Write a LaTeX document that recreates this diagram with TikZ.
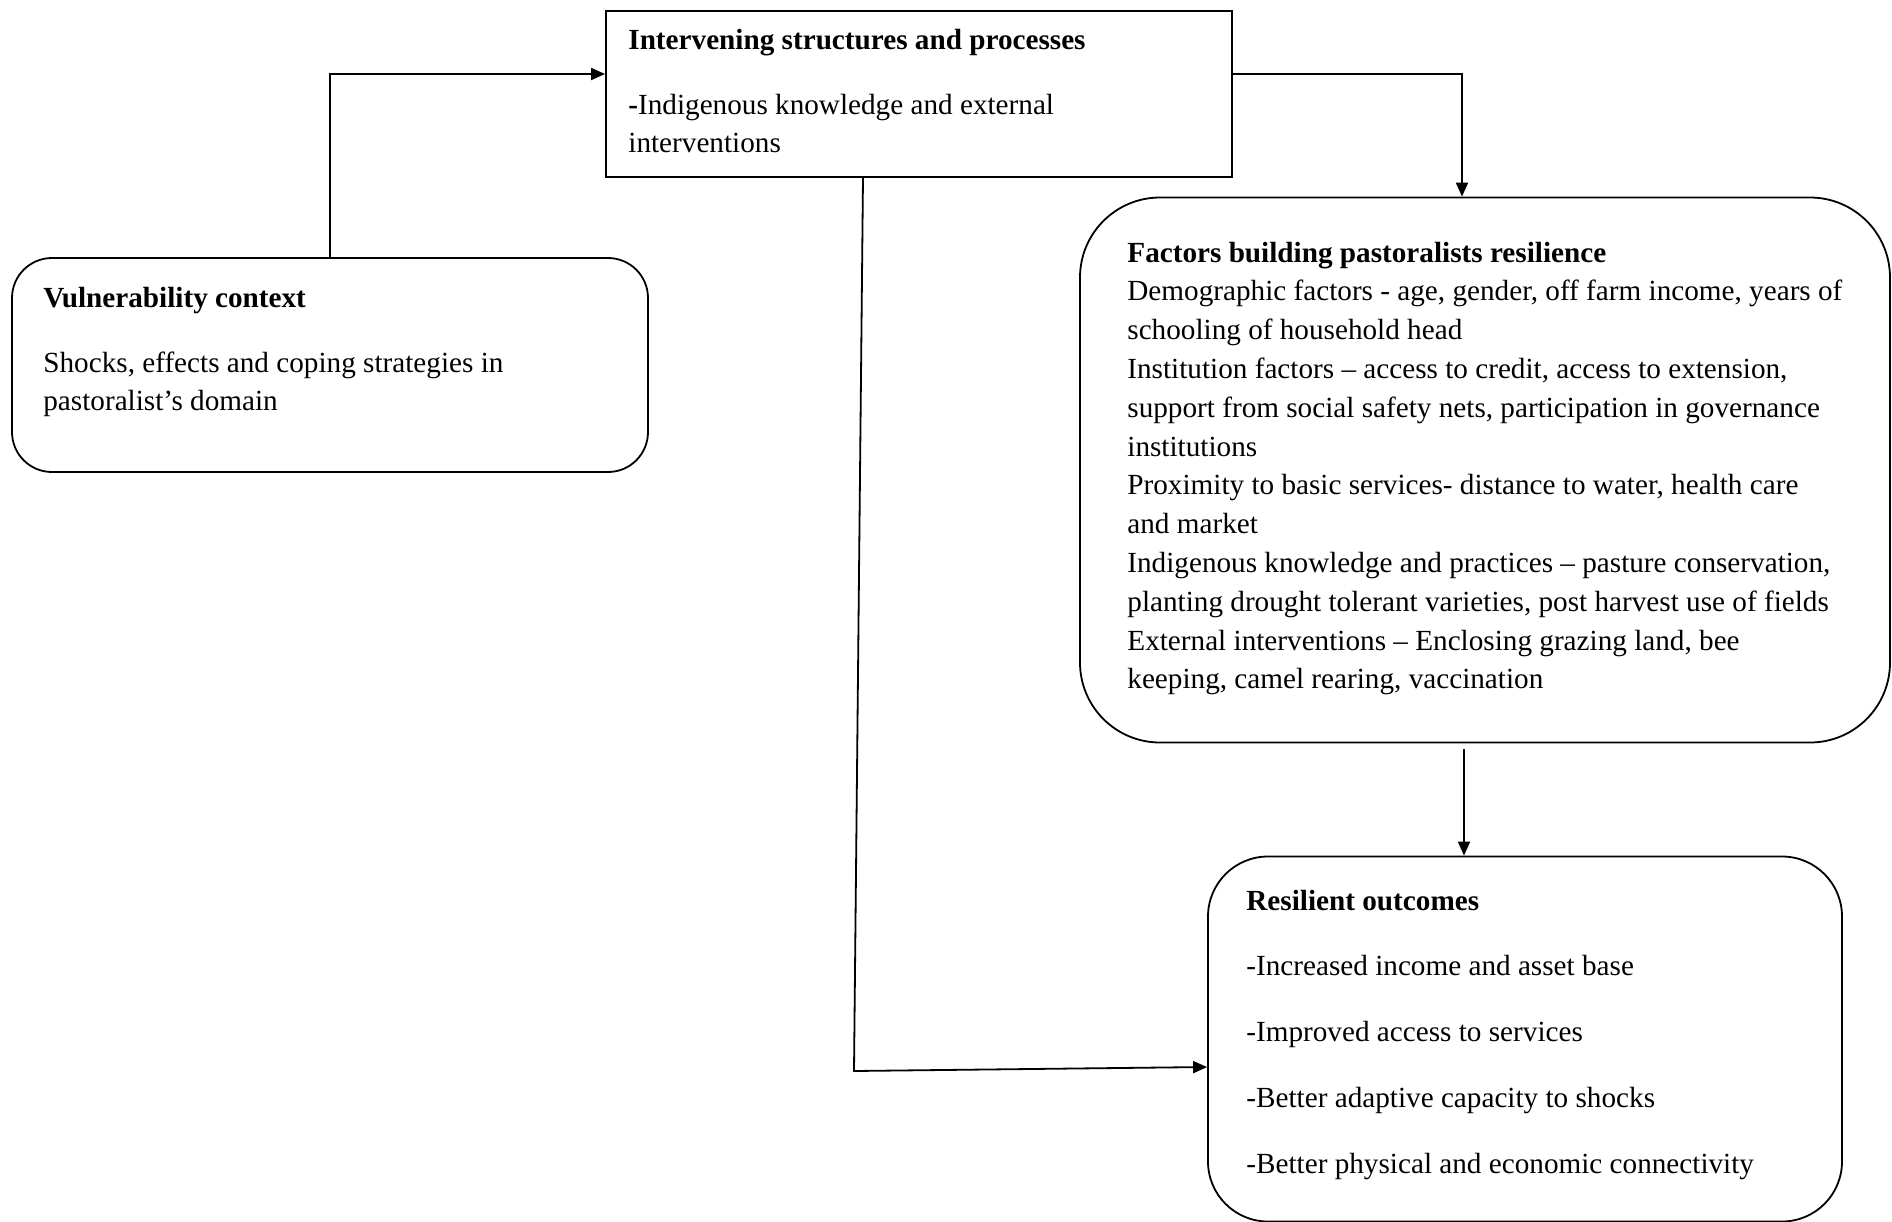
\documentclass[tikz,border=0pt]{standalone}
\usepackage{fontspec}
\setmainfont{Liberation Serif}
\usetikzlibrary{positioning,arrows.meta}

\begin{document}
\begin{tikzpicture}[x=0.5pt, y=-0.5pt,
    box/.style={draw, line width=0.9pt, inner sep=0pt},
    txt/.style={anchor=base west, inner sep=0pt, font=\fontsize{14.6}{19.4}\selectfont},
    head/.style={txt, font=\fontsize{14.6}{19.4}\selectfont\bfseries},
    arr/.style={line width=0.9pt, -{Triangle[length=7pt, width=6pt]}}]
  \useasboundingbox (0,0) rectangle (1892,1222);
  % Boxes
  \node[box, minimum width=313pt, minimum height=83pt] (interv) at (919,94) {};
  \node[box, rounded corners=20pt, minimum width=318pt, minimum height=107pt] (vuln) at (330,365) {};
  \node[box, rounded corners=40pt, minimum width=405pt, minimum height=272.5pt] (factors) at (1485,470) {};
  \node[box, rounded corners=30pt, minimum width=317pt, minimum height=182.5pt] (resil) at (1525,1039) {};
  % Intervening structures
  \node[head] (interv-t) at (628,49) {Intervening structures and processes};
  \node[txt] (interv-1) at (628,114) {\textbf{-}Indigenous knowledge and external};
  \node[txt] (interv-2) at (628,152) {interventions};
  % Vulnerability context
  \node[head] (vuln-t) at (43,307) {Vulnerability context};
  \node[txt] (vuln-1) at (43,372) {Shocks, effects and coping strategies in};
  \node[txt] (vuln-2) at (43,410) {pastoralist’s domain};
  % Factors building resilience
  \node[head] (fact-t) at (1127,262) {Factors building pastoralists resilience};
  \foreach \line [count=\i] in {
      {Demographic factors - age, gender, off farm income, years of},
      {schooling of household head},
      {Institution factors – access to credit, access to extension,},
      {support from social safety nets, participation in governance},
      {institutions},
      {Proximity to basic services- distance to water, health care},
      {and market},
      {Indigenous knowledge and practices – pasture conservation,},
      {planting drought tolerant varieties, post harvest use of fields},
      {External interventions – Enclosing grazing land, bee},
      {keeping, camel rearing, vaccination}} {
    \node[txt] (fact\i) at (1127,{300.8+38.8*(\i-1)}) {\line};
  }
  % Resilient outcomes
  \node[head] (resil-t) at (1246,910) {Resilient outcomes};
  \foreach \line [count=\i] in {
      {-Increased income and asset base},
      {-Improved access to services},
      {-Better adaptive capacity to shocks},
      {-Better physical and economic connectivity}} {
    \node[txt] (resil\i) at (1246,{975+66*(\i-1)}) {\line};
  }
  % Connectors
  \coordinate (interv-in) at ([yshift=10pt]interv.west);
  \coordinate (interv-out) at ([yshift=10pt]interv.east);
  \coordinate (interv-down) at ([xshift=-28pt]interv.south);
  \coordinate (fact-in) at ([xshift=-11.5pt]factors.north);
  \coordinate (fact-out) at ([yshift=-3pt]factors.south);
  \coordinate (resil-top) at ([xshift=-30.5pt]resil.north);
  \coordinate (resil-in) at ([yshift=-14pt]resil.west);
  \coordinate (turn) at (854,1071);
  \draw[arr] (vuln.north) |- (interv-in);
  \draw[arr] (interv-out) -| (fact-in);
  \draw[arr] (resil-top |- fact-out) -- (resil-top);
  \draw[arr] (interv-down) -- (turn) -- (resil-in);
\end{tikzpicture}
\end{document}
